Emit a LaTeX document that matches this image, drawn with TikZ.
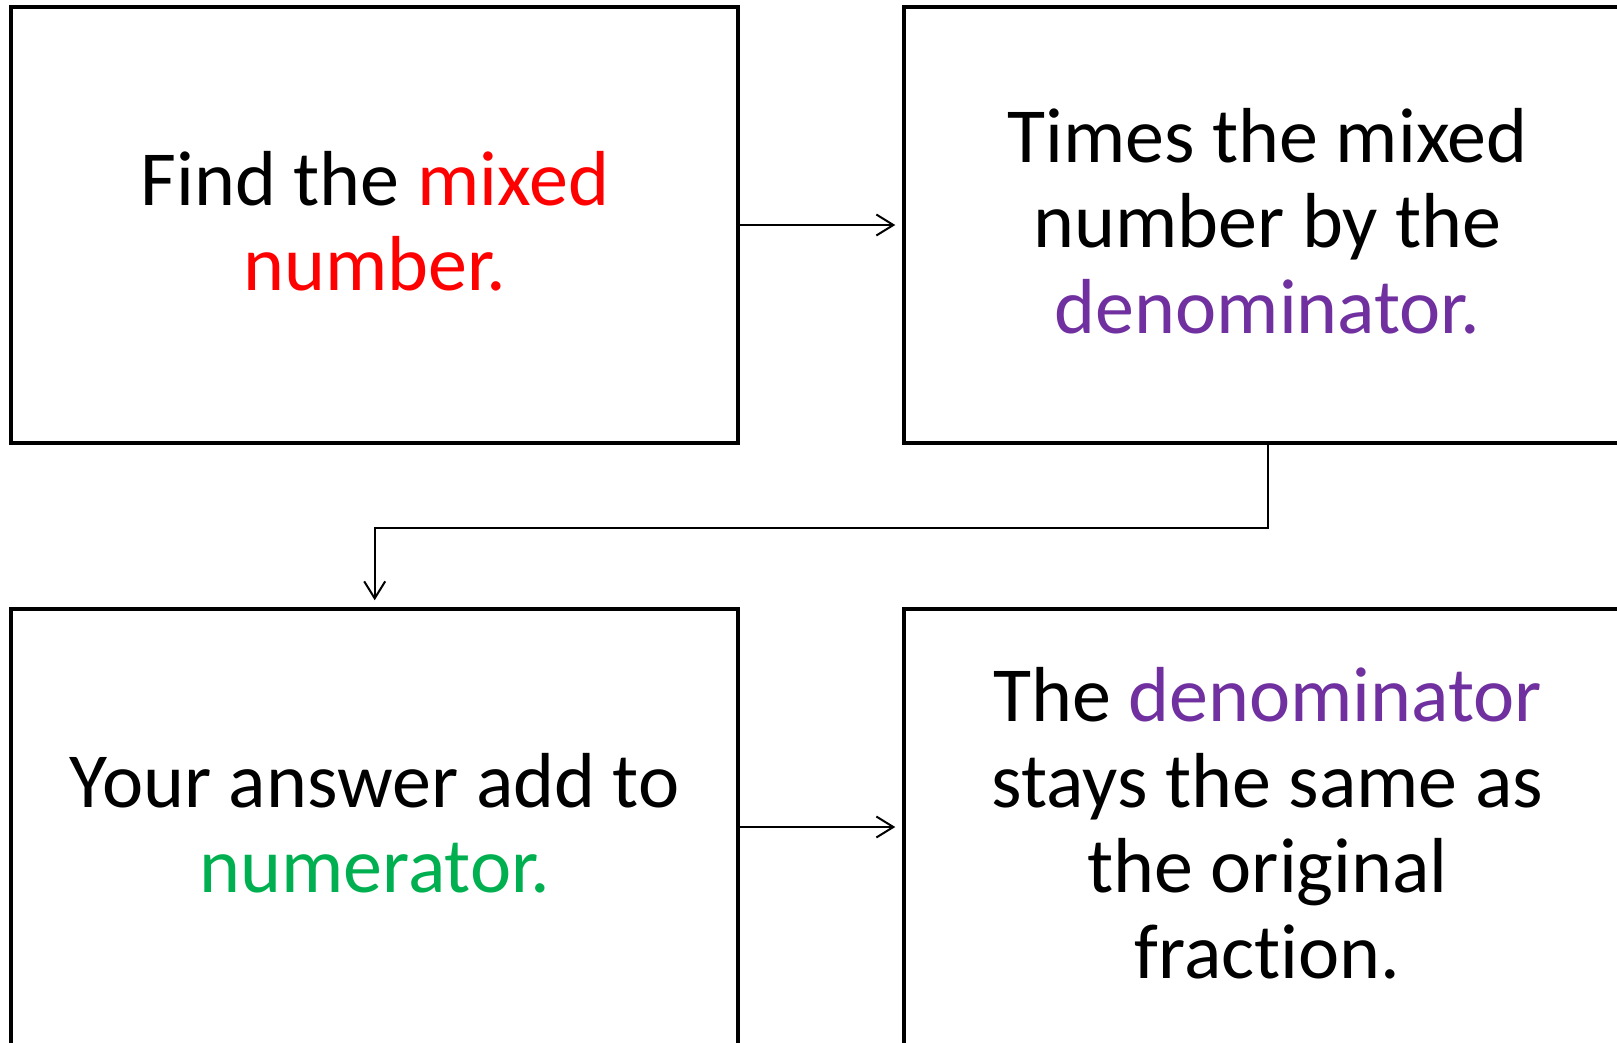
\documentclass[tikz,border=0pt]{standalone}
\usepackage{fontspec}
\setmainfont{Carlito}[Ligatures=NoCommon]
\usetikzlibrary{arrows.meta}
\definecolor{cred}{HTML}{FF0000}
\definecolor{cpurple}{HTML}{7030A0}
\definecolor{cgreen}{HTML}{00B050}
\tikzset{
  stepbox/.style={draw=black, line width=3.5pt, minimum width=727pt, minimum height=436pt,
    inner sep=0pt},
  steptext/.style={inner sep=0pt, align=center, font=\fontsize{78}{85.5}\selectfont, yshift=4pt},
  conn/.style={draw=black, line width=2pt, -{Straight Barb[length=17pt,width=21pt,line width=2pt]}, shorten >=7pt}
}
\begin{document}
\begin{tikzpicture}[x=1pt,y=-1pt]
\useasboundingbox (0,0) rectangle (1617,1042);
\node[stepbox] (b1) at (374.7,225) {};
\node[stepbox] (b2) at (1267.5,225) {};
\node[stepbox] (b3) at (374.7,827) {};
\node[stepbox] (b4) at (1267.5,827) {};
\node[steptext] (t1) at (b1.center) {Find the \textcolor{cred}{mixed}\\\textcolor{cred}{number.}};
\node[steptext] (t2) at (b2.center) {Times the mixed\\number by the\\\textcolor{cpurple}{denominator.}};
\node[steptext] (t3) at (b3.center) {Your answer add to\\\textcolor{cgreen}{numerator.}};
\node[steptext] (t4) at (b4.center) {The \textcolor{cpurple}{denominator}\\stays the same as\\the original\\fraction.};
\draw[conn] (b1.east) -- (b2.west);
\draw[conn] (b2.south) -- ++(0,83.5) -| (b3.north);
\draw[conn] (b3.east) -- (b4.west);
\end{tikzpicture}
\end{document}
